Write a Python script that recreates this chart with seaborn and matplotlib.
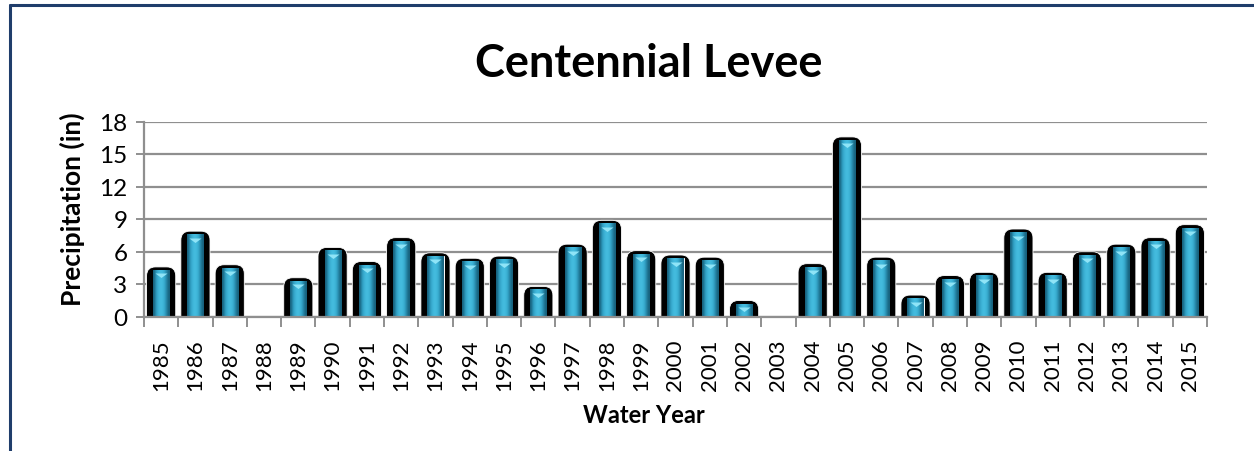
import numpy as np
import pandas as pd
import matplotlib
matplotlib.use("Agg")
import matplotlib.pyplot as plt
import seaborn as sns
from matplotlib.patches import FancyBboxPatch
from matplotlib.lines import Line2D
from matplotlib.ticker import FixedLocator

years = [str(y) for y in range(1985, 2016)]
precip = [4.3, 7.6, 4.5, 0.0, 3.3, 6.1, 4.8, 7.0, 5.6, 5.1,
          5.3, 2.5, 6.4, 8.6, 5.8, 5.4, 5.2, 1.2, 0.0, 4.6,
          16.3, 5.2, 1.7, 3.5, 3.8, 7.8, 3.8, 5.7, 6.4, 7.0, 8.2]
yticks = [0, 3, 6, 9, 12, 15, 18]
title = "Centennial Levee"
xlabel = "Water Year"
ylabel = "Precipitation (in)"

df = pd.DataFrame({"year": years, "precip": precip})

sns.set_theme(style="white")
plt.rcParams["font.family"] = ["Lato", "DejaVu Sans"]
plt.rcParams["text.color"] = "black"
plt.rcParams["axes.labelcolor"] = "black"

W, H = 1254, 452
fig = plt.figure(figsize=(W / 100, H / 100), dpi=100)
ax = fig.add_axes([144 / W, 1 - 317.5 / H, (1207 - 144) / W, (317.5 - 122.5) / H])

ax.set_ylim(0, 18)
ax.set_xlim(-0.5, len(years) - 0.5)
ax.set_yticks(yticks)
ax.yaxis.grid(True, color="#8f8f8f", linewidth=1.6)
ax.set_axisbelow(True)

# outer black rounded bars
sns.barplot(data=df, x="year", y="precip", color="black", width=0.85,
            saturation=1, ax=ax, zorder=2)
n_black = len(ax.patches)
black = list(ax.patches)

# inner blue bars
sns.barplot(data=df, x="year", y="precip", color="#2fa3c6", width=0.47,
            saturation=1, ax=ax, zorder=3)
blue = list(ax.patches)[n_black:]

px_x = (1207 - 144) / len(years)
px_y = (317.5 - 122.5) / 18
aspect = px_x / px_y
cap = 3.0 / px_y
for p in black:
    h = p.get_height()
    p.set_visible(False)
    if h <= 0:
        continue
    fb = FancyBboxPatch((p.get_x(), -2), p.get_width(), h + 2 + cap,
                        boxstyle="round,pad=0,rounding_size=0.26",
                        mutation_aspect=aspect, facecolor="black",
                        edgecolor="white", linewidth=0.6, zorder=2)
    ax.add_patch(fb)

grad = np.array([[0.0, 0.35, 0.6, 0.75, 0.7, 0.5, 0.2, 0.0]])
cmap = matplotlib.colors.LinearSegmentedColormap.from_list(
    "b", ["#17607c", "#2f9fc3", "#45bde0"])
tops_x, tops_y = [], []
for p in blue:
    h = p.get_height()
    if h <= 0:
        p.set_visible(False)
        continue
    x0, w = p.get_x(), p.get_width()
    p.set_facecolor("none")
    p.set_edgecolor("white")
    p.set_linewidth(0.7)
    im = ax.imshow(grad, cmap=cmap, aspect="auto", extent=[x0, x0 + w, 0, h],
                   zorder=3, interpolation="bicubic", vmin=0, vmax=0.75)
    im.set_clip_path(p)
    tops_x.append(x0 + w / 2)
    tops_y.append(h)

tri = [(-1, 0), (1, 0), (0, -0.75), (-1, 0)]
ax.scatter(tops_x, np.array(tops_y) - 0.33, marker=tri, s=75,
           color="#8fe4f7", linewidths=0, zorder=4)

ax.set_xlim(-0.5, len(years) - 0.5)
ax.set_ylim(0, 18)

for s in ["top", "right"]:
    ax.spines[s].set_visible(False)
for s in ["left", "bottom"]:
    ax.spines[s].set_color("#8f8f8f")
    ax.spines[s].set_linewidth(1.6)
    ax.spines[s].set_zorder(5)

ax.tick_params(axis="y", which="major", length=6, width=1.4, color="#8f8f8f",
               direction="out", left=True, labelsize=17.5, pad=6,
               labelcolor="black")
ax.xaxis.set_minor_locator(FixedLocator(np.arange(-0.5, len(years), 1.0)))
ax.tick_params(axis="x", which="minor", length=7, width=1.4, color="#8f8f8f",
               direction="out", bottom=True)
ax.tick_params(axis="x", which="major", length=0, labelsize=16, pad=16,
               labelrotation=90, labelcolor="black")

ax.set_xlabel(xlabel, fontsize=17, fontweight="bold", color="black")
ax.xaxis.set_label_coords((644 - 144) / (1207 - 144), -(416 - 317.5) / (317.5 - 122.5))
ax.xaxis.label.set_va("center")
ax.set_ylabel(ylabel, fontsize=19, fontweight="bold", color="black")
ax.yaxis.set_label_coords(-(144 - 72) / (1207 - 144), (317.5 - 209) / (317.5 - 122.5))
ax.yaxis.label.set_va("center")
fig.text(649 / W, 1 - 77 / H, title, ha="center", va="baseline",
         fontsize=32.5, fontweight="bold", color="black")

frame_c = "#1f3d6b"
fig.add_artist(Line2D([9.5 / W, 9.5 / W], [0, 1 - 6 / H], color=frame_c,
                      linewidth=2.2, transform=fig.transFigure))
fig.add_artist(Line2D([9.5 / W, 1], [1 - 6 / H, 1 - 6 / H], color=frame_c,
                      linewidth=2.2, transform=fig.transFigure))

fig.savefig("out.png", dpi=100)
